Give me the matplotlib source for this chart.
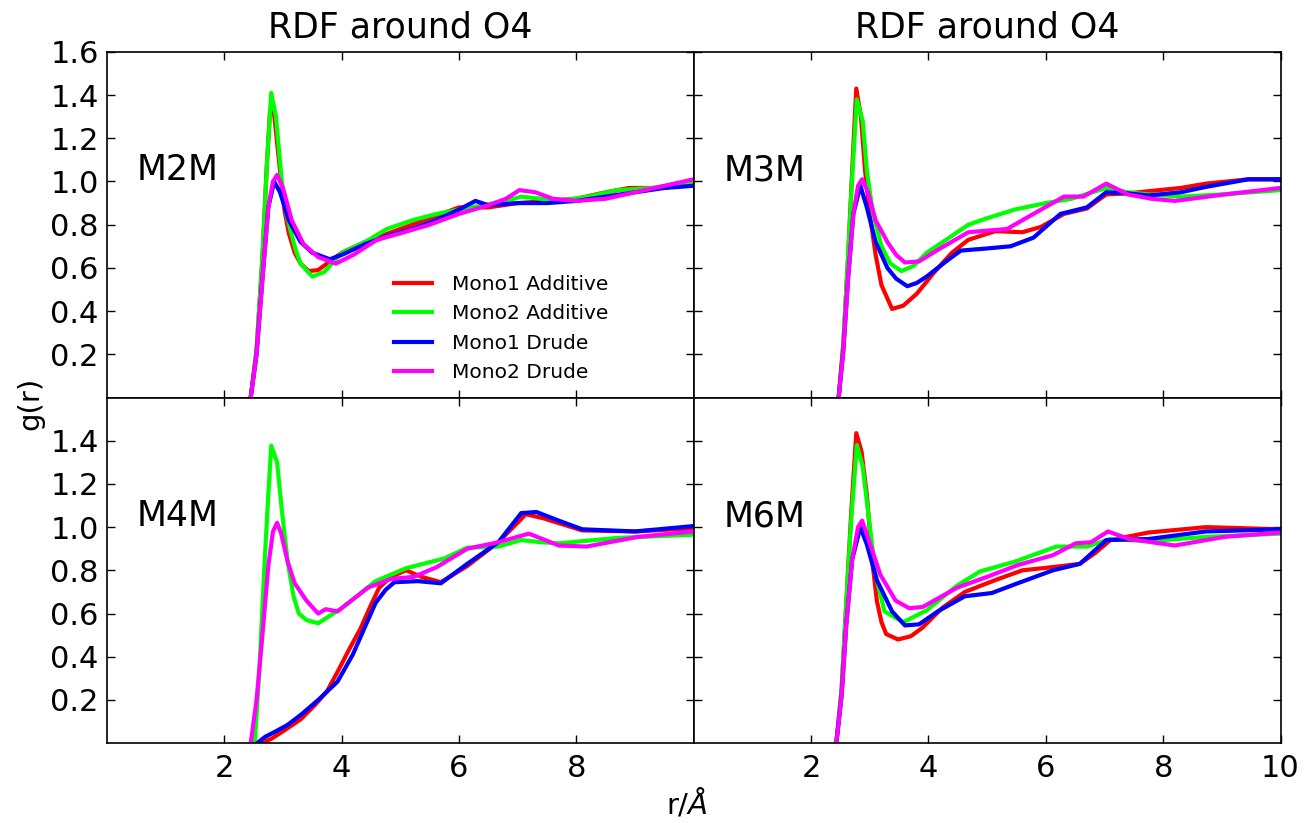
import matplotlib
matplotlib.use("Agg")
import matplotlib.pyplot as plt

# ---------------- data ----------------
series_names = ["Mono1 Additive", "Mono2 Additive", "Mono1 Drude", "Mono2 Drude"]
series_colors = ["#ff0000", "#00ff00", "#0000ff", "#ff00ff"]
panel_labels = ["M2M", "M3M", "M4M", "M6M"]
panel_titles = ["RDF around O4", "RDF around O4"]
x_ticks_left = [2, 4, 6, 8]
x_ticks_right = [2, 4, 6, 8, 10]
y_ticks_top = [0.2, 0.4, 0.6, 0.8, 1.0, 1.2, 1.4, 1.6]
y_ticks_bottom = [0.2, 0.4, 0.6, 0.8, 1.0, 1.2, 1.4]

# M2M
m2m_r_mono1_add = [2.45, 2.55, 2.65, 2.72, 2.78, 2.85, 2.95, 3.03, 3.1, 3.2, 3.3, 3.44, 3.6, 3.8, 4.0, 4.4, 4.8, 5.2, 5.6, 6.0, 6.5, 7.0, 7.5, 8.0, 8.5, 8.9, 9.5, 10]
m2m_g_mono1_add = [0, 0.22, 0.65, 1.05, 1.33, 1.31, 1.05, 0.86, 0.76, 0.67, 0.62, 0.585, 0.59, 0.63, 0.67, 0.72, 0.76, 0.80, 0.84, 0.88, 0.88, 0.90, 0.91, 0.92, 0.95, 0.97, 0.97, 1.0]
m2m_r_mono2_add = [2.45, 2.55, 2.65, 2.73, 2.80, 2.88, 2.98, 3.06, 3.14, 3.22, 3.3, 3.5, 3.7, 4.0, 4.4, 4.77, 5.2, 5.62, 6.0, 6.4, 6.8, 7.06, 7.4, 7.7, 8.2, 8.7, 9.3, 10]
m2m_g_mono2_add = [0, 0.22, 0.65, 1.1, 1.41, 1.30, 1.0, 0.85, 0.76, 0.68, 0.62, 0.56, 0.58, 0.67, 0.72, 0.78, 0.82, 0.85, 0.87, 0.89, 0.91, 0.93, 0.92, 0.91, 0.93, 0.96, 0.97, 1.0]
m2m_r_mono1_dru = [2.45, 2.55, 2.65, 2.75, 2.85, 2.95, 3.1, 3.3, 3.5, 3.8, 4.0, 4.4, 4.8, 5.2, 5.6, 6.0, 6.28, 6.5, 7.0, 7.5, 8.0, 8.5, 9.0, 9.5, 10]
m2m_g_mono1_dru = [0, 0.2, 0.55, 0.88, 1.0, 0.95, 0.82, 0.72, 0.67, 0.64, 0.66, 0.71, 0.75, 0.78, 0.82, 0.87, 0.91, 0.89, 0.90, 0.90, 0.91, 0.93, 0.95, 0.97, 0.98]
m2m_r_mono2_dru = [2.45, 2.55, 2.65, 2.75, 2.83, 2.90, 3.0, 3.15, 3.35, 3.6, 3.9, 4.2, 4.6, 5.0, 5.5, 6.0, 6.5, 6.8, 7.03, 7.3, 7.6, 8.0, 8.5, 9.0, 9.5, 10]
m2m_g_mono2_dru = [0, 0.2, 0.55, 0.88, 1.0, 1.03, 0.97, 0.82, 0.71, 0.65, 0.62, 0.66, 0.73, 0.76, 0.80, 0.85, 0.89, 0.92, 0.96, 0.95, 0.92, 0.91, 0.92, 0.95, 0.98, 1.01]

# M3M
m3m_r_mono1_add = [2.47, 2.55, 2.63, 2.7, 2.77, 2.85, 2.92, 3.0, 3.1, 3.2, 3.38, 3.57, 3.8, 4.1, 4.4, 4.68, 5.14, 5.6, 5.92, 6.31, 6.7, 7.03, 7.4, 7.75, 8.3, 8.73, 9.45, 10]
m3m_g_mono1_add = [0, 0.25, 0.65, 1.05, 1.43, 1.30, 1.05, 0.85, 0.66, 0.52, 0.41, 0.425, 0.48, 0.58, 0.67, 0.73, 0.77, 0.765, 0.79, 0.85, 0.875, 0.94, 0.945, 0.955, 0.97, 0.99, 1.01, 1.01]
m3m_r_mono2_add = [2.47, 2.55, 2.63, 2.7, 2.78, 2.88, 2.95, 3.05, 3.2, 3.35, 3.54, 3.75, 3.97, 4.3, 4.68, 5.0, 5.47, 6.0, 6.44, 7.03, 7.4, 7.75, 8.3, 9.0, 10]
m3m_g_mono2_add = [0, 0.25, 0.65, 1.02, 1.38, 1.28, 1.05, 0.86, 0.70, 0.62, 0.585, 0.61, 0.67, 0.73, 0.80, 0.83, 0.87, 0.90, 0.92, 0.97, 0.95, 0.94, 0.93, 0.94, 0.96]
m3m_r_mono1_dru = [2.47, 2.55, 2.63, 2.72, 2.84, 2.95, 3.1, 3.3, 3.45, 3.64, 3.8, 3.97, 4.3, 4.55, 5.0, 5.4, 5.79, 6.25, 6.7, 7.03, 7.4, 7.75, 8.3, 8.73, 9.45, 10]
m3m_g_mono1_dru = [0, 0.22, 0.55, 0.85, 0.98, 0.88, 0.72, 0.60, 0.55, 0.515, 0.53, 0.56, 0.63, 0.68, 0.69, 0.70, 0.74, 0.85, 0.88, 0.95, 0.945, 0.935, 0.95, 0.975, 1.01, 1.01]
m3m_r_mono2_dru = [2.47, 2.55, 2.63, 2.72, 2.8, 2.87, 2.97, 3.1, 3.3, 3.45, 3.6, 3.84, 4.2, 4.68, 5.34, 5.79, 6.31, 6.64, 7.03, 7.4, 7.8, 8.2, 9.05, 10]
m3m_g_mono2_dru = [0, 0.22, 0.55, 0.85, 0.98, 1.01, 0.95, 0.82, 0.72, 0.66, 0.625, 0.63, 0.69, 0.765, 0.78, 0.85, 0.93, 0.93, 0.99, 0.94, 0.92, 0.91, 0.94, 0.97]

# M4M
m4m_r_mono1_add = [2.62, 2.8, 3.0, 3.3, 3.54, 3.75, 3.93, 4.12, 4.32, 4.5, 4.64, 4.84, 5.1, 5.36, 5.69, 6.14, 6.67, 7.14, 7.45, 7.8, 8.1, 9.0, 10]
m4m_g_mono1_add = [0, 0.02, 0.055, 0.11, 0.175, 0.24, 0.33, 0.43, 0.53, 0.64, 0.72, 0.77, 0.80, 0.77, 0.745, 0.82, 0.93, 1.06, 1.04, 1.01, 0.985, 0.98, 0.995]
m4m_r_mono2_add = [2.52, 2.6, 2.68, 2.75, 2.80, 2.9, 2.98, 3.08, 3.18, 3.27, 3.4, 3.6, 4.0, 4.58, 5.1, 5.75, 6.14, 6.67, 7.06, 7.4, 7.7, 8.7, 10]
m4m_g_mono2_add = [0, 0.35, 0.8, 1.15, 1.377, 1.30, 1.08, 0.84, 0.68, 0.60, 0.57, 0.555, 0.625, 0.75, 0.81, 0.855, 0.905, 0.91, 0.94, 0.93, 0.925, 0.95, 0.965]
m4m_r_mono1_dru = [2.56, 2.7, 2.88, 3.08, 3.3, 3.6, 3.93, 4.19, 4.4, 4.58, 4.75, 4.9, 5.3, 5.69, 6.14, 6.67, 7.06, 7.32, 7.7, 8.1, 9.0, 10]
m4m_g_mono1_dru = [0, 0.03, 0.055, 0.085, 0.13, 0.20, 0.285, 0.41, 0.54, 0.65, 0.71, 0.745, 0.75, 0.74, 0.83, 0.93, 1.065, 1.07, 1.03, 0.99, 0.98, 1.005]
m4m_r_mono2_dru = [2.45, 2.55, 2.65, 2.75, 2.83, 2.9, 2.97, 3.08, 3.2, 3.4, 3.6, 3.73, 3.93, 4.45, 4.84, 5.23, 5.62, 6.14, 6.67, 7.19, 7.7, 8.17, 9.05, 10]
m4m_g_mono2_dru = [0, 0.2, 0.5, 0.82, 0.98, 1.02, 0.97, 0.84, 0.74, 0.66, 0.60, 0.62, 0.61, 0.72, 0.76, 0.77, 0.815, 0.90, 0.93, 0.97, 0.915, 0.91, 0.955, 0.98]

# M6M
m6m_r_mono1_add = [2.43, 2.52, 2.6, 2.68, 2.77, 2.86, 2.95, 3.04, 3.12, 3.2, 3.28, 3.48, 3.7, 3.9, 4.23, 4.62, 5.14, 5.6, 6.12, 6.58, 6.84, 7.1, 7.75, 8.73, 10]
m6m_g_mono1_add = [0, 0.25, 0.65, 1.05, 1.435, 1.35, 1.15, 0.85, 0.66, 0.56, 0.505, 0.48, 0.495, 0.535, 0.625, 0.70, 0.755, 0.80, 0.815, 0.83, 0.88, 0.94, 0.975, 1.0, 0.99]
m6m_r_mono2_add = [2.43, 2.52, 2.6, 2.68, 2.78, 2.88, 2.99, 3.1, 3.25, 3.57, 3.97, 4.49, 4.88, 5.47, 6.18, 6.7, 7.1, 7.75, 8.73, 10]
m6m_g_mono2_add = [0, 0.25, 0.65, 1.02, 1.38, 1.28, 1.03, 0.78, 0.61, 0.56, 0.615, 0.73, 0.795, 0.84, 0.91, 0.91, 0.945, 0.935, 0.955, 0.97]
m6m_r_mono1_dru = [2.43, 2.52, 2.6, 2.7, 2.84, 2.95, 3.12, 3.38, 3.6, 3.84, 4.16, 4.62, 5.08, 5.47, 6.12, 6.58, 7.03, 7.75, 8.73, 10]
m6m_g_mono1_dru = [0, 0.22, 0.55, 0.85, 1.0, 0.92, 0.755, 0.61, 0.545, 0.55, 0.61, 0.68, 0.695, 0.735, 0.80, 0.83, 0.94, 0.945, 0.98, 0.99]
m6m_r_mono2_dru = [2.43, 2.52, 2.6, 2.7, 2.8, 2.87, 2.97, 3.18, 3.44, 3.67, 3.9, 4.49, 5.0, 5.53, 6.12, 6.51, 6.77, 7.06, 7.42, 8.2, 9.05, 10]
m6m_g_mono2_dru = [0, 0.22, 0.55, 0.85, 1.0, 1.03, 0.95, 0.78, 0.66, 0.625, 0.63, 0.72, 0.77, 0.825, 0.87, 0.925, 0.93, 0.98, 0.945, 0.915, 0.955, 0.975]

panels = [
    [(m2m_r_mono1_add, m2m_g_mono1_add), (m2m_r_mono2_add, m2m_g_mono2_add),
     (m2m_r_mono1_dru, m2m_g_mono1_dru), (m2m_r_mono2_dru, m2m_g_mono2_dru)],
    [(m3m_r_mono1_add, m3m_g_mono1_add), (m3m_r_mono2_add, m3m_g_mono2_add),
     (m3m_r_mono1_dru, m3m_g_mono1_dru), (m3m_r_mono2_dru, m3m_g_mono2_dru)],
    [(m4m_r_mono1_add, m4m_g_mono1_add), (m4m_r_mono2_add, m4m_g_mono2_add),
     (m4m_r_mono1_dru, m4m_g_mono1_dru), (m4m_r_mono2_dru, m4m_g_mono2_dru)],
    [(m6m_r_mono1_add, m6m_g_mono1_add), (m6m_r_mono2_add, m6m_g_mono2_add),
     (m6m_r_mono1_dru, m6m_g_mono1_dru), (m6m_r_mono2_dru, m6m_g_mono2_dru)],
]

# ---------------- figure ----------------
plt.rcParams['font.family'] = ['DejaVu Sans']
fig, axes = plt.subplots(2, 2, figsize=(13.04, 8.23), dpi=100)
fig.subplots_adjust(left=0.082, right=0.982, top=0.937, bottom=0.097, wspace=0, hspace=0)

for i, ax in enumerate(axes.flat):
    for (r, g), name, col in zip(panels[i], series_names, series_colors):
        ax.plot(r, g, color=col, lw=3, label=name, solid_joinstyle='round')
    ax.set_xlim(0, 10)
    ax.set_ylim(0, 1.6)
    ax.tick_params(direction='in', top=True, right=True, length=6, width=1,
                   labelsize=22)
    ax.tick_params(axis='x', pad=8)
    ax.tick_params(axis='y', pad=6)
    ax.text(0.051, 0.657, panel_labels[i], transform=ax.transAxes,
            fontsize=25, va='center', ha='left')
    for s in ax.spines.values():
        s.set_linewidth(1.2)

axes[0, 0].set_yticks(y_ticks_top)
axes[0, 1].set_yticks(y_ticks_top)
axes[1, 0].set_yticks(y_ticks_bottom)
axes[1, 1].set_yticks(y_ticks_bottom)
axes[0, 0].set_xticks(x_ticks_left)
axes[1, 0].set_xticks(x_ticks_left)
axes[0, 1].set_xticks(x_ticks_right)
axes[1, 1].set_xticks(x_ticks_right)
for ax in axes[0, :]:
    ax.tick_params(labelbottom=False)
for ax in axes[:, 1]:
    ax.tick_params(labelleft=False)

for j in range(2):
    axes[0, j].set_title(panel_titles[j], fontsize=25, pad=10)

axes[0, 0].legend(loc='center', bbox_to_anchor=(0.672, 0.20), frameon=False,
                  fontsize=14.5, handlelength=1.9, labelspacing=0.52, handletextpad=1.0)

fig.text(0.023, 0.51, 'g(r)', rotation=90, fontsize=21, va='center', ha='center')
fig.text(0.527, 0.024, r'r/$\AA$', fontsize=21, va='center', ha='center')

fig.savefig('out.png', dpi=100)
